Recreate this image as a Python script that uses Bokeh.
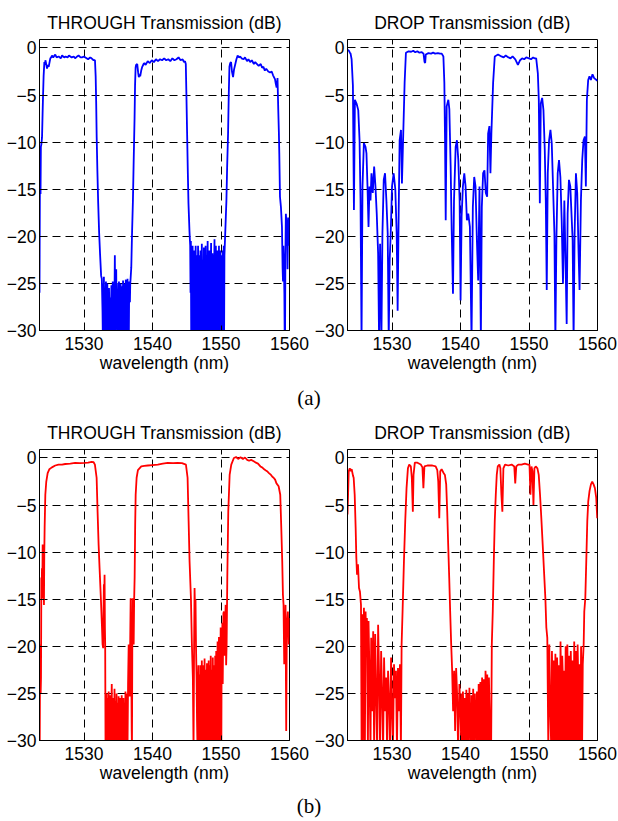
from bokeh.plotting import figure
from bokeh.layouts import column, row
from bokeh.models import Div, FixedTicker, ColumnDataSource
from bokeh.embed import file_html
from bokeh.resources import INLINE

# ---------------- data (wavelength nm, transmission dB) ----------------
X_TICKS = [1530, 1540, 1550, 1560]
Y_TICKS = [-30, -25, -20, -15, -10, -5, 0]
X_GRID = [1530, 1540, 1550]
Y_GRID = [-25, -20, -15, -10, -5, 0]
X_RANGE = (1523.5, 1560)
Y_RANGE = (-30, 0.9)
TITLE_THROUGH = "THROUGH Transmission (dB)"
TITLE_DROP = "DROP Transmission (dB)"
X_LABEL = "wavelength (nm)"
PANEL_A = "(a)"
PANEL_B = "(b)"

through_a = [
    (1523.5, -26), (1523.55, -16), (1523.6, -12), (1523.65, -15.5), (1523.7, -10.5), (1523.78, -10.2),
    (1523.87, -9.5), (1523.95, -7), (1524.02, -5), (1524.1, -3), (1524.21, -1.5), (1524.3, -1.8),
    (1524.36, -1.3), (1524.45, -1.6), (1524.6, -2.2), (1524.7, -1.8), (1524.84, -2.0), (1525.0, -1.4),
    (1525.08, -1.1), (1525.2, -1.0), (1525.32, -0.8), (1525.5, -1.0), (1525.8, -0.7), (1526.0, -1.0),
    (1526.3, -0.9), (1526.6, -1.1), (1526.8, -0.8), (1527.1, -1.0), (1527.3, -0.9), (1527.6, -1.0),
    (1527.8, -0.8), (1528.2, -1.0), (1528.5, -0.9), (1528.7, -1.1), (1529.0, -0.9), (1529.2, -0.8),
    (1529.5, -1.0), (1529.7, -1.0), (1530.0, -0.9), (1530.2, -1.0), (1530.6, -1.2), (1530.9, -1.0),
    (1531.1, -1.1), (1531.4, -1.3), (1531.6, -1.3), (1531.7, -3), (1531.78, -6), (1531.85, -9.5),
    (1531.95, -13), (1532.07, -16.5), (1532.2, -19.5), (1532.35, -22), (1532.5, -24.2), (1532.6, -24.5),
    (1532.7, -28), (1532.75, -31), (1532.8, -25), (1532.85, -30), (1532.9, -24.3), (1533.0, -31),
    (1533.05, -26), (1533.1, -29), (1533.2, -24.8), (1533.25, -31), (1533.3, -27), (1533.4, -25),
    (1533.45, -30.5), (1533.5, -26), (1533.6, -31), (1533.65, -25.5), (1533.7, -28), (1533.8, -31),
    (1533.85, -26.5), (1533.9, -29), (1534.0, -25.2), (1534.05, -31), (1534.1, -27), (1534.2, -24.8),
    (1534.25, -30), (1534.3, -26), (1534.4, -31), (1534.5, -22), (1534.55, -27), (1534.6, -31),
    (1534.7, -23.5), (1534.75, -29), (1534.8, -25), (1534.9, -31), (1534.95, -26), (1535.0, -28),
    (1535.1, -24.8), (1535.15, -31), (1535.2, -26), (1535.3, -30), (1535.35, -25), (1535.4, -31),
    (1535.5, -25.3), (1535.55, -28.5), (1535.6, -31), (1535.7, -24.7), (1535.75, -30), (1535.8, -26),
    (1535.9, -31), (1535.95, -25), (1536.0, -27.5), (1536.1, -24.6), (1536.15, -31), (1536.2, -25.5),
    (1536.3, -29), (1536.35, -24.5), (1536.4, -31), (1536.5, -25), (1536.55, -30), (1536.6, -24.8),
    (1536.7, -27), (1536.75, -25), (1536.8, -24.5), (1536.9, -23.3), (1537.0, -20), (1537.14, -16.2),
    (1537.25, -12), (1537.38, -7.4), (1537.45, -4), (1537.53, -2.1), (1537.6, -1.8), (1537.77, -1.7),
    (1537.9, -2.6), (1538.0, -3.1), (1538.1, -2.8), (1538.2, -3.0), (1538.35, -2.4), (1538.5, -2.0),
    (1538.7, -1.7), (1538.83, -1.6), (1539.0, -1.8), (1539.3, -1.4), (1539.6, -1.6), (1539.9, -1.3),
    (1540.2, -1.5), (1540.5, -1.2), (1540.8, -1.4), (1541.1, -1.2), (1541.4, -1.3), (1541.7, -1.1),
    (1542.0, -1.3), (1542.3, -1.2), (1542.6, -1.4), (1542.9, -1.1), (1543.2, -1.3), (1543.5, -1.2),
    (1543.8, -1.0), (1544.1, -1.3), (1544.4, -1.2), (1544.6, -1.5), (1544.75, -1.4), (1544.86, -1.7),
    (1544.95, -5), (1545.05, -9), (1545.15, -13), (1545.25, -16.5), (1545.4, -19.5), (1545.5, -21),
    (1545.55, -26), (1545.6, -20.5), (1545.65, -31), (1545.7, -22), (1545.75, -27), (1545.8, -31),
    (1545.85, -21), (1545.9, -25), (1545.95, -31), (1546.0, -22.5), (1546.05, -29), (1546.1, -21.5),
    (1546.15, -31), (1546.2, -24), (1546.25, -31), (1546.3, -21), (1546.35, -27), (1546.4, -31),
    (1546.45, -22), (1546.5, -31), (1546.55, -23.5), (1546.6, -28), (1546.65, -21), (1546.7, -31),
    (1546.75, -25), (1546.8, -31), (1546.85, -22), (1546.9, -26), (1546.95, -31), (1547.0, -21.5),
    (1547.05, -30), (1547.1, -24), (1547.15, -31), (1547.2, -20.8), (1547.25, -27), (1547.3, -31),
    (1547.35, -22.5), (1547.4, -31), (1547.45, -25), (1547.5, -21.2), (1547.55, -31), (1547.6, -23),
    (1547.65, -29), (1547.7, -31), (1547.75, -21), (1547.8, -26), (1547.85, -31), (1547.9, -22),
    (1547.95, -31), (1548.0, -24.5), (1548.05, -20.5), (1548.1, -31), (1548.15, -23), (1548.2, -28),
    (1548.25, -31), (1548.3, -21.5), (1548.35, -30), (1548.4, -22.5), (1548.45, -31), (1548.5, -25),
    (1548.55, -20.7), (1548.6, -31), (1548.65, -24), (1548.7, -31), (1548.75, -21.8), (1548.8, -27),
    (1548.85, -31), (1548.9, -22), (1548.95, -31), (1549.0, -23.5), (1549.05, -20.3), (1549.1, -31),
    (1549.15, -25), (1549.2, -29), (1549.25, -21), (1549.3, -31), (1549.35, -23), (1549.4, -31),
    (1549.45, -21.5), (1549.5, -26), (1549.55, -31), (1549.6, -22), (1549.65, -30), (1549.7, -21),
    (1549.75, -31), (1549.8, -24), (1549.85, -31), (1549.9, -21.5), (1549.95, -27), (1550.0, -31),
    (1550.05, -22), (1550.1, -31), (1550.15, -23), (1550.2, -29), (1550.25, -21.5), (1550.3, -31),
    (1550.35, -24), (1550.4, -21), (1550.45, -31), (1550.5, -22), (1550.55, -21), (1550.7, -18),
    (1550.79, -16.2), (1550.9, -12.5), (1551.03, -9.1), (1551.13, -5), (1551.23, -2.0), (1551.35, -1.6),
    (1551.47, -1.5), (1551.6, -2.5), (1551.76, -3.1), (1551.9, -2.3), (1552.09, -1.7), (1552.25, -1.2),
    (1552.43, -0.8), (1552.6, -1.0), (1552.8, -0.9), (1553.0, -1.1), (1553.3, -1.2), (1553.5, -1.0),
    (1553.8, -1.4), (1554.0, -1.2), (1554.26, -1.5), (1554.5, -1.3), (1554.8, -1.7), (1555.0, -1.5),
    (1555.23, -1.7), (1555.5, -1.9), (1555.8, -1.7), (1556.0, -2.1), (1556.19, -2.0), (1556.4, -2.4),
    (1556.6, -2.2), (1556.9, -2.5), (1557.16, -2.6), (1557.4, -2.5), (1557.6, -2.9), (1557.88, -3.3),
    (1558.0, -3.8), (1558.12, -4.2), (1558.25, -3.2), (1558.36, -6.6), (1558.45, -9), (1558.51, -11.2),
    (1558.61, -15.8), (1558.7, -16.5), (1558.75, -16.9), (1558.9, -19), (1558.99, -23.3), (1559.05, -24.8),
    (1559.1, -21), (1559.18, -23), (1559.25, -26), (1559.3, -31), (1559.35, -31), (1559.4, -22),
    (1559.47, -17.6), (1559.55, -18.5), (1559.6, -21), (1559.66, -19), (1559.72, -23.5), (1559.8, -18),
    (1559.88, -21), (1559.96, -18),
]

drop_a = [
    (1523.5, -0.2), (1523.71, -0.3), (1523.85, -0.5), (1523.95, -0.6), (1524.1, -1.2), (1524.29, -4),
    (1524.44, -17.2), (1524.58, -5.5), (1524.82, -5.9), (1525.07, -6.6), (1525.26, -9.8), (1525.4, -16),
    (1525.55, -31), (1525.69, -14.7), (1525.89, -10.1), (1526.13, -10.5), (1526.27, -11.2), (1526.42, -14.7),
    (1526.57, -19), (1526.71, -14.7), (1526.86, -16.2), (1527.0, -13.3), (1527.19, -15.4), (1527.39, -12.6),
    (1527.58, -14.7), (1527.77, -17.6), (1527.97, -21.8), (1528.11, -31), (1528.26, -20.8), (1528.45, -31),
    (1528.6, -19.7), (1528.79, -14), (1528.98, -13.3), (1529.18, -16.2), (1529.37, -19.7), (1529.52, -31),
    (1529.66, -22.5), (1529.81, -19.7), (1530.0, -14.7), (1530.24, -13.3), (1530.48, -15), (1530.68, -19.7),
    (1530.82, -27.9), (1530.97, -17.6), (1531.11, -9.8), (1531.31, -8.7), (1531.45, -14.4), (1531.64, -9.1),
    (1531.84, -3.7), (1532.03, -0.5), (1532.42, -0.35), (1532.8, -0.4), (1533.1, -0.3), (1533.39, -0.45),
    (1533.7, -0.35), (1534.0, -0.5), (1534.35, -0.45), (1534.6, -0.6), (1534.75, -1.5), (1534.84, -1.6),
    (1534.93, -0.7), (1535.32, -0.55), (1535.7, -0.6), (1536.0, -0.5), (1536.29, -0.6), (1536.7, -0.55),
    (1537.0, -0.6), (1537.26, -0.6), (1537.5, -0.9), (1537.64, -3.7), (1537.74, -9.8), (1537.84, -18.3),
    (1537.98, -6.2), (1538.22, -5.5), (1538.37, -6.5), (1538.56, -12.6), (1538.71, -19.3), (1538.9, -26.1),
    (1539.05, -16.2), (1539.29, -10.5), (1539.48, -9.8), (1539.68, -11.9), (1539.87, -16.2), (1540.01, -26.8),
    (1540.16, -17.9), (1540.35, -14.7), (1540.55, -13.3), (1540.74, -14.7), (1540.93, -18.3), (1541.13, -17.6),
    (1541.37, -19), (1541.61, -31), (1541.8, -16.9), (1542.0, -13.7), (1542.19, -14.7), (1542.39, -20.4),
    (1542.58, -24.7), (1542.77, -14.7), (1542.97, -31), (1543.11, -16.9), (1543.3, -13.3), (1543.5, -13),
    (1543.69, -15.4), (1543.89, -15.8), (1544.03, -9.1), (1544.22, -8.3), (1544.37, -13.3), (1544.51, -9),
    (1544.76, -3.7), (1545.0, -0.9), (1545.48, -0.7), (1545.97, -0.9), (1546.3, -1.0), (1546.6, -0.8),
    (1547.0, -1.0), (1547.3, -1.1), (1547.6, -0.9), (1548.0, -1.2), (1548.38, -1.8), (1548.7, -1.3),
    (1549.0, -1.1), (1549.3, -1.2), (1549.6, -1.0), (1550.0, -1.1), (1550.3, -1.2), (1550.6, -1.0),
    (1550.8, -1.1), (1551.05, -1.1), (1551.29, -2.7), (1551.43, -5.5), (1551.58, -16.5), (1551.72, -5.9),
    (1551.92, -5.3), (1552.11, -6.6), (1552.3, -10.8), (1552.45, -16.2), (1552.59, -25.7), (1552.74, -13.3),
    (1552.93, -9.8), (1553.13, -8.7), (1553.32, -10.1), (1553.51, -14.7), (1553.71, -19.7), (1553.85, -31),
    (1554.0, -20.4), (1554.19, -13.3), (1554.38, -11.9), (1554.58, -13.7), (1554.77, -18.3), (1554.96, -25),
    (1555.16, -16.2), (1555.35, -23.3), (1555.5, -29.3), (1555.64, -17.6), (1555.83, -14), (1556.03, -14.7),
    (1556.22, -17.9), (1556.37, -20.4), (1556.51, -31), (1556.66, -19.7), (1556.85, -13.3), (1557.04, -15.4),
    (1557.24, -21.8), (1557.38, -25.7), (1557.58, -16.2), (1557.77, -11.9), (1557.96, -9.8), (1558.16, -9.4),
    (1558.3, -14.7), (1558.45, -5.5), (1558.64, -3.4), (1558.83, -3.0), (1559.03, -3.4), (1559.27, -2.8),
    (1559.51, -3.2), (1559.85, -3.4), (1560.0, -3.5),
]

through_b = [
    (1523.53, -31), (1523.58, -22), (1523.62, -19.8), (1523.67, -25), (1523.72, -23.3), (1523.77, -12.7),
    (1523.82, -15), (1523.86, -11.7), (1523.91, -14), (1523.96, -9.2), (1524.01, -12), (1524.06, -14.9),
    (1524.1, -11), (1524.15, -15.6), (1524.2, -10), (1524.25, -7.4), (1524.35, -3.9), (1524.49, -2.5),
    (1524.69, -1.6), (1524.93, -1.2), (1525.31, -1.0), (1525.8, -0.8), (1526.28, -0.7), (1526.8, -0.7),
    (1527.25, -0.64), (1528.0, -0.6), (1528.7, -0.53), (1529.4, -0.55), (1530.14, -0.53), (1530.6, -0.5),
    (1531.11, -0.42), (1531.4, -0.45), (1531.59, -0.7), (1531.84, -2.1), (1531.98, -5.7), (1532.13, -9.2),
    (1532.27, -11.7), (1532.46, -14.9), (1532.61, -17.7), (1532.71, -19.8), (1532.8, -20.2), (1532.85, -16),
    (1532.9, -13.4), (1532.95, -15), (1533.0, -12.4), (1533.05, -18), (1533.09, -19.8), (1533.14, -31),
    (1533.2, -26), (1533.25, -31), (1533.3, -25), (1533.35, -29), (1533.4, -31), (1533.45, -25.5),
    (1533.5, -28), (1533.55, -31), (1533.6, -24.8), (1533.65, -30), (1533.7, -26.5), (1533.75, -31),
    (1533.8, -25.2), (1533.9, -28.5), (1533.95, -31), (1534.0, -26), (1534.05, -24), (1534.1, -30),
    (1534.15, -27), (1534.2, -31), (1534.25, -25.5), (1534.3, -29), (1534.35, -26), (1534.4, -31),
    (1534.45, -24.5), (1534.5, -28), (1534.55, -31), (1534.6, -25.8), (1534.7, -29.5), (1534.75, -25),
    (1534.8, -31), (1534.85, -27), (1534.9, -26), (1535.0, -31), (1535.05, -25.3), (1535.1, -28),
    (1535.15, -31), (1535.2, -26), (1535.3, -25.5), (1535.35, -30), (1535.4, -27), (1535.45, -31),
    (1535.5, -25.2), (1535.6, -28), (1535.65, -26), (1535.7, -31), (1535.75, -25.5), (1535.8, -29),
    (1535.9, -31), (1535.95, -26), (1536.0, -27.5), (1536.05, -24.8), (1536.1, -31), (1536.2, -25),
    (1536.25, -29), (1536.3, -27), (1536.35, -31), (1536.43, -24), (1536.52, -19.8), (1536.6, -25),
    (1536.67, -25.3), (1536.72, -21), (1536.81, -14.9), (1536.86, -22), (1536.91, -23.3), (1536.96, -29),
    (1537.0, -31), (1537.05, -20), (1537.1, -14.9), (1537.17, -18), (1537.25, -19.8), (1537.32, -15),
    (1537.39, -12.7), (1537.47, -7), (1537.54, -3.9), (1537.68, -2.1), (1537.87, -1.3), (1538.36, -0.9),
    (1538.8, -0.85), (1539.32, -0.8), (1540.0, -0.75), (1540.77, -0.7), (1541.5, -0.6), (1542.22, -0.53),
    (1543.0, -0.55), (1543.67, -0.53), (1544.3, -0.55), (1544.88, -0.7), (1545.12, -2.1), (1545.27, -6.7),
    (1545.41, -11), (1545.61, -14.9), (1545.75, -19.8), (1545.89, -23.3), (1545.99, -31), (1546.07, -20),
    (1546.14, -13.8), (1546.2, -16), (1546.28, -15), (1546.35, -20), (1546.43, -23.3), (1546.5, -28),
    (1546.57, -31), (1546.65, -24), (1546.7, -22), (1546.75, -31), (1546.8, -25), (1546.85, -27),
    (1546.9, -23), (1546.95, -31), (1547.0, -22), (1547.05, -26), (1547.1, -24), (1547.15, -31),
    (1547.2, -21.5), (1547.25, -28), (1547.3, -23), (1547.35, -31), (1547.4, -25), (1547.45, -22),
    (1547.5, -29), (1547.55, -31), (1547.6, -21.3), (1547.65, -26), (1547.7, -24), (1547.75, -31),
    (1547.8, -22.5), (1547.85, -27), (1547.9, -31), (1547.95, -21.8), (1548.0, -25), (1548.05, -31),
    (1548.1, -23), (1548.15, -28), (1548.2, -21.5), (1548.25, -31), (1548.3, -24), (1548.35, -22),
    (1548.4, -31), (1548.45, -26), (1548.5, -21), (1548.55, -28), (1548.6, -31), (1548.65, -22.5),
    (1548.7, -25), (1548.75, -31), (1548.8, -21.2), (1548.85, -27), (1548.9, -23), (1548.95, -31),
    (1549.0, -22), (1549.05, -26), (1549.1, -31), (1549.15, -21), (1549.2, -24), (1549.25, -29),
    (1549.3, -20.5), (1549.35, -31), (1549.4, -22), (1549.45, -25), (1549.5, -19.5), (1549.55, -31),
    (1549.6, -21), (1549.65, -24), (1549.7, -19), (1549.75, -28), (1549.8, -31), (1549.85, -20),
    (1549.9, -23), (1549.95, -18), (1550.0, -26), (1550.05, -31), (1550.1, -19), (1550.15, -22),
    (1550.2, -17.5), (1550.25, -24), (1550.3, -20), (1550.35, -16.5), (1550.43, -16.3), (1550.5, -21),
    (1550.58, -18), (1550.68, -15.6), (1550.75, -22), (1550.82, -19.8), (1550.92, -12.7), (1551.06, -5.7),
    (1551.26, -1.8), (1551.5, -0.7), (1551.88, 0.0), (1552.2, 0.1), (1552.5, -0.1), (1552.85, 0.07),
    (1553.2, -0.1), (1553.5, 0.05), (1553.82, -0.2), (1554.1, -0.3), (1554.4, -0.2), (1554.78, -0.35),
    (1555.1, -0.5), (1555.4, -0.6), (1555.75, -0.9), (1556.0, -1.0), (1556.3, -1.2), (1556.5, -1.3),
    (1556.72, -1.4), (1557.0, -1.6), (1557.3, -1.8), (1557.5, -2.0), (1557.68, -2.1), (1557.9, -2.3),
    (1558.1, -2.7), (1558.41, -3.0), (1558.65, -3.9), (1558.8, -7.4), (1558.94, -11), (1559.04, -14.5),
    (1559.13, -15.6), (1559.23, -21.9), (1559.32, -19.8), (1559.42, -15.6), (1559.52, -29), (1559.61, -18),
    (1559.76, -16.3), (1559.9, -19.8), (1560.0, -17),
]

drop_b = [
    (1523.5, -6), (1523.58, -4), (1523.68, -1.4), (1523.83, -1.1), (1523.97, -1.4), (1524.11, -1.2),
    (1524.31, -1.9), (1524.4, -2.1), (1524.55, -3.9), (1524.69, -7.4), (1524.79, -10.6), (1524.89, -12.4),
    (1525.03, -11.3), (1525.18, -13.8), (1525.32, -14.2), (1525.47, -15.6), (1525.56, -31), (1525.66, -16.6),
    (1525.75, -31), (1525.9, -15.9), (1526.04, -31), (1526.14, -16.3), (1526.24, -19.8), (1526.33, -17),
    (1526.48, -31), (1526.57, -17.3), (1526.72, -23.3), (1526.86, -31), (1526.96, -19.1), (1527.11, -26.9),
    (1527.25, -18.4), (1527.39, -31), (1527.54, -18.7), (1527.68, -25), (1527.83, -31), (1527.97, -17.7),
    (1528.12, -23.3), (1528.26, -31), (1528.41, -20.5), (1528.55, -25), (1528.7, -31), (1528.84, -21.2),
    (1528.99, -26.9), (1529.13, -23.3), (1529.28, -31), (1529.42, -22.6), (1529.57, -25.7), (1529.71, -31),
    (1529.86, -21.2), (1530.0, -26.9), (1530.14, -31), (1530.29, -21.9), (1530.43, -25.5), (1530.58, -22.6),
    (1530.72, -31), (1530.87, -22.3), (1531.01, -26.9), (1531.16, -21.9), (1531.3, -31), (1531.4, -19.8),
    (1531.54, -16.3), (1531.74, -11), (1531.93, -6.7), (1532.12, -3.2), (1532.32, -1.1), (1532.51, -0.7),
    (1532.75, -0.9), (1532.89, -2.1), (1533.04, -5.7), (1533.14, -1.8), (1533.33, -0.5), (1533.71, -0.5),
    (1534.2, -0.7), (1534.44, -1.0), (1534.58, -3.2), (1534.73, -0.9), (1535.16, -0.8), (1535.89, -0.8),
    (1536.37, -0.9), (1536.61, -1.3), (1536.75, -2.5), (1536.9, -6.4), (1537.04, -1.4), (1537.24, -1.2),
    (1537.53, -1.6), (1537.72, -1.8), (1537.91, -2.8), (1538.06, -5.7), (1538.2, -9.2), (1538.35, -12.7),
    (1538.49, -16.3), (1538.64, -19.8), (1538.78, -22.6), (1538.92, -26.9), (1539.07, -22.6), (1539.21, -29),
    (1539.36, -22.3), (1539.5, -25), (1539.65, -31), (1539.84, -24), (1539.99, -26.9), (1540.13, -31),
    (1540.2, -25), (1540.25, -28), (1540.3, -31), (1540.35, -24.8), (1540.45, -27), (1540.5, -31),
    (1540.6, -25.5), (1540.65, -29), (1540.7, -26), (1540.8, -31), (1540.85, -24.6), (1540.95, -28),
    (1541.0, -31), (1541.1, -25), (1541.15, -27.5), (1541.2, -31), (1541.3, -24.4), (1541.35, -29),
    (1541.45, -26), (1541.5, -31), (1541.6, -25.2), (1541.7, -28), (1541.75, -31), (1541.85, -24.5),
    (1541.9, -27), (1542.0, -31), (1542.1, -25), (1542.2, -29), (1542.25, -26), (1542.3, -31),
    (1542.4, -24.8), (1542.5, -28), (1542.55, -31), (1542.65, -24), (1542.75, -27), (1542.8, -31),
    (1542.9, -23.8), (1543.0, -28), (1543.05, -31), (1543.15, -23.3), (1543.25, -26), (1543.3, -31),
    (1543.4, -23.5), (1543.5, -27), (1543.55, -31), (1543.65, -22.6), (1543.75, -25), (1543.8, -31),
    (1543.9, -23), (1544.0, -26), (1544.05, -31), (1544.15, -23.3), (1544.25, -27), (1544.35, -31),
    (1544.47, -31), (1544.57, -19.8), (1544.71, -16.3), (1544.86, -11), (1545.0, -6.7), (1545.15, -3.9),
    (1545.29, -1.8), (1545.44, -0.9), (1545.68, -0.7), (1545.82, -1.1), (1545.97, -3.9), (1546.11, -5.7),
    (1546.26, -1.1), (1546.5, -0.7), (1546.98, -0.8), (1547.46, -0.7), (1547.85, -0.9), (1547.99, -2.7),
    (1548.14, -0.9), (1548.43, -0.7), (1548.91, -0.7), (1549.39, -0.6), (1549.87, -0.7), (1550.07, -0.7),
    (1550.21, -3.9), (1550.36, -0.9), (1550.5, -1.4), (1550.65, -5.0), (1550.79, -1.1), (1550.98, -0.9),
    (1551.23, -1.1), (1551.42, -1.8), (1551.61, -3.9), (1551.8, -6.4), (1552.0, -9.2), (1552.19, -12),
    (1552.39, -14.9), (1552.53, -18), (1552.67, -19.1), (1552.82, -31), (1552.96, -19.8), (1553.11, -26.9),
    (1553.25, -31), (1553.35, -20.5), (1553.45, -26), (1553.5, -31), (1553.6, -21.5), (1553.7, -25),
    (1553.75, -31), (1553.85, -20.8), (1553.95, -27), (1554.0, -31), (1554.1, -21.2), (1554.2, -24),
    (1554.25, -31), (1554.35, -22), (1554.45, -26), (1554.5, -31), (1554.6, -19.5), (1554.7, -25),
    (1554.75, -31), (1554.85, -21), (1554.95, -23.5), (1555.0, -31), (1555.1, -22.6), (1555.2, -27),
    (1555.25, -31), (1555.35, -20), (1555.45, -24), (1555.5, -31), (1555.6, -19.8), (1555.7, -26),
    (1555.75, -31), (1555.85, -21), (1555.95, -24.5), (1556.0, -31), (1556.1, -20.5), (1556.2, -25),
    (1556.25, -31), (1556.35, -21.5), (1556.45, -27), (1556.5, -31), (1556.6, -19.5), (1556.7, -23),
    (1556.75, -31), (1556.85, -20.5), (1556.95, -25), (1557.0, -31), (1557.1, -19.8), (1557.2, -24),
    (1557.25, -31), (1557.35, -21.9), (1557.45, -26), (1557.5, -31), (1557.6, -20), (1557.7, -24),
    (1557.75, -31), (1557.85, -21.9), (1557.98, -19.8), (1558.07, -16.3), (1558.22, -14.9), (1558.36, -11),
    (1558.51, -6.7), (1558.65, -4.6), (1558.84, -3.5), (1559.04, -2.8), (1559.23, -2.5), (1559.43, -2.8),
    (1559.62, -3.2), (1559.81, -4.2), (1559.96, -6.4),
]

BLUE = "#0000FF"
RED = "#FF0000"
SANS = "Liberation Sans"
SERIF = "Liberation Serif"


def panel(title, pts, color, left, right, top, bottom):
    p = figure(frame_width=250, frame_height=291, x_range=X_RANGE, y_range=Y_RANGE,
               output_backend="svg", toolbar_location=None, title=title,
               min_border_left=left, min_border_right=right,
               min_border_top=top, min_border_bottom=bottom,
               background_fill_color="white", border_fill_color="white")
    p.title.align = "center"
    p.title.text_font = SANS
    p.title.text_font_size = "17.5px"
    p.title.text_font_style = "normal"
    p.title.text_color = "black"
    p.title.standoff = 13
    p.outline_line_color = "black"
    p.outline_line_width = 1
    p.outline_line_alpha = 1

    for ax in (p.xaxis[0], p.yaxis[0]):
        ax.major_tick_in = 5
        ax.major_tick_out = 0
        ax.minor_tick_line_color = None
        ax.major_tick_line_color = "black"
        ax.axis_line_color = "black"
        ax.major_label_text_font = SANS
        ax.major_label_text_font_size = "17.5px"
        ax.major_label_text_color = "black"
    p.yaxis.major_label_standoff = 3
    p.xaxis.ticker = FixedTicker(ticks=X_TICKS)
    p.yaxis.ticker = FixedTicker(ticks=Y_TICKS)
    p.xaxis.major_label_standoff = 6
    p.xaxis.axis_label = X_LABEL
    p.xaxis.axis_label_text_font = SANS
    p.xaxis.axis_label_text_font_size = "17.5px"
    p.xaxis.axis_label_text_font_style = "normal"
    p.xaxis.axis_label_text_color = "black"
    p.xaxis.axis_label_standoff = 0

    p.xgrid.ticker = FixedTicker(ticks=X_GRID)
    p.ygrid.ticker = FixedTicker(ticks=Y_GRID)
    for g in (p.xgrid[0], p.ygrid[0]):
        g.grid_line_color = "black"
        g.grid_line_dash = "8 5"
        g.grid_line_width = 1
        g.grid_line_alpha = 1

    src = ColumnDataSource(dict(wl=[a for a, b in pts], db=[b for a, b in pts]))
    p.line("wl", "db", source=src, line_color=color, line_width=1.8)
    return p


p1 = panel(TITLE_THROUGH, through_a, BLUE, 39, 20, 39, 54)
p2 = panel(TITLE_DROP, drop_a, BLUE, 38, 21, 39, 54)
p3 = panel(TITLE_THROUGH, through_b, RED, 39, 20, 37, 54)
p4 = panel(TITLE_DROP, drop_b, RED, 38, 21, 37, 54)

label_style = {"font-family": SERIF, "font-size": "21px", "text-align": "center", "color": "black"}
div_a = Div(text=PANEL_A, width=618, height=28, margin=(0, 0, 0, 0),
            styles=dict(label_style, **{"line-height": "28px"}))
div_b = Div(text=PANEL_B, width=618, height=24, margin=(0, 0, 0, 0),
            styles=dict(label_style, **{"line-height": "24px"}))

layout = column(row(p1, p2), div_a, row(p3, p4), div_b)

open("out.html", "w").write(file_html(layout, INLINE))
